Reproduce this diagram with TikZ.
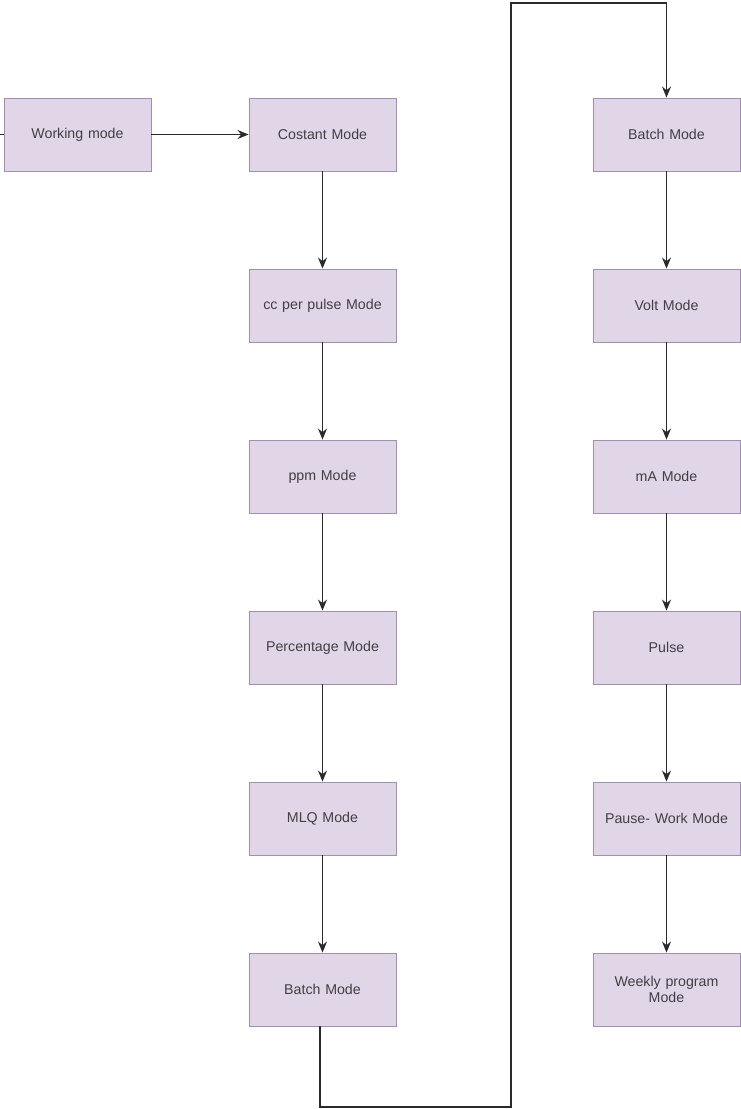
\documentclass[tikz,border=0pt]{standalone}
\usepackage{fontspec}
\setmainfont{Liberation Sans}
\usetikzlibrary{arrows.meta}
\definecolor{boxfill}{HTML}{E0D6E8}
\definecolor{boxline}{HTML}{A08FB4}
\definecolor{txt}{HTML}{404040}
\definecolor{lnk}{HTML}{2A2A2A}
\begin{document}
\begin{tikzpicture}[x=1pt,y=-1pt,
  mbox/.style={draw=boxline,fill=boxfill,line width=0.9pt,minimum width=147pt,minimum height=73pt,inner sep=2pt,text=txt,font=\fontsize{14.2}{16.5}\selectfont,align=center,text width=140pt},
  link/.style={draw=lnk,line width=1.1pt,-{Stealth[length=11pt,width=9pt]}},
  loop/.style={draw=lnk,line width=1.6pt,-{Stealth[length=11pt,width=9pt]}}]
\useasboundingbox (0,0) rectangle (740,1109);
\node[mbox] (w) at (77.5,134.5) {Working mode};
\node[mbox] (l1) at (322.5,134.5) {Costant Mode};
\node[mbox] (l2) at (322.5,305.5) {cc per pulse Mode};
\node[mbox] (l3) at (322.5,476.5) {ppm Mode};
\node[mbox] (l4) at (322.5,647.5) {Percentage Mode};
\node[mbox] (l5) at (322.5,818.5) {MLQ Mode};
\node[mbox] (l6) at (322.5,989.5) {Batch Mode};
\node[mbox] (r1) at (666.5,134.5) {Batch Mode};
\node[mbox] (r2) at (666.5,305.5) {Volt Mode};
\node[mbox] (r3) at (666.5,476.5) {mA Mode};
\node[mbox] (r4) at (666.5,647.5) {Pulse};
\node[mbox] (r5) at (666.5,818.5) {Pause- Work Mode};
\node[mbox] (r6) at (666.5,989.5) {Weekly program\\Mode};
\coordinate (tick) at (0,134.5);
\coordinate (b1) at (320,1107);
\coordinate (b2) at (511,1107);
\coordinate (t1) at (511,3);
\coordinate (t2) at (666.5,3);
\draw[draw=lnk,line width=1pt] (tick) -- (w.west);
\draw[link] (w) -- (l1);
\draw[link] (l1) -- (l2);
\draw[link] (l2) -- (l3);
\draw[link] (l3) -- (l4);
\draw[link] (l4) -- (l5);
\draw[link] (l5) -- (l6);
\draw[link] (r1) -- (r2);
\draw[link] (r2) -- (r3);
\draw[link] (r3) -- (r4);
\draw[link] (r4) -- (r5);
\draw[link] (r5) -- (r6);
\draw[loop] (l6.south -| b1) -- (b1) -- (b2) -- (t1) -- (t2) -- (r1.north);
\end{tikzpicture}
\end{document}
